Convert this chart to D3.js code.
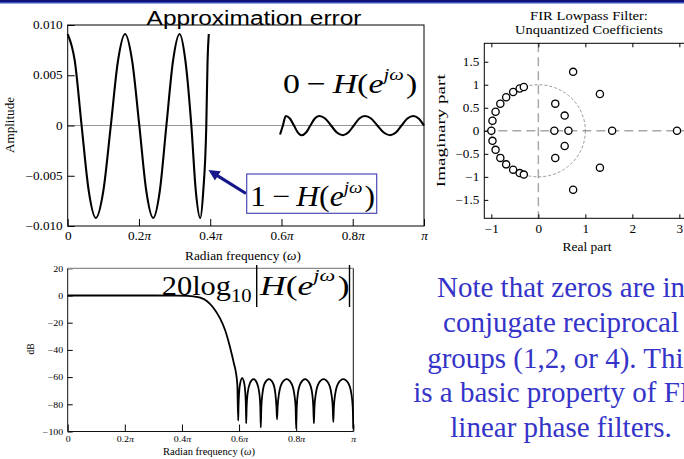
<!DOCTYPE html>
<html><head><meta charset="utf-8">
<script src="https://cdn.jsdelivr.net/npm/d3@7"></script>
<style>html,body{margin:0;padding:0;background:#fff;overflow:hidden}svg{display:block}</style>
</head><body><svg id="c" width="684" height="459"></svg>
<script>
// ---------------- DATA ----------------
// Plot 1: approximation error, passband (1 - H) and stopband (0 - H); omega in units of pi
const passOmega = [0, 0.020, 0.039, 0.059, 0.079, 0.100, 0.121, 0.141, 0.161, 0.181, 0.201, 0.2205, 0.240, 0.2585, 0.277, 0.2955, 0.314, 0.3305, 0.347, 0.3595, 0.372, 0.3805, 0.389, 0.3925, 0.396];
const passError = [0.0091, 0.0064, 0, -0.0065, -0.0092, -0.0065, 0, 0.0064, 0.0091, 0.0064, 0, -0.0065, -0.0092, -0.0065, 0, 0.0064, 0.0091, 0.0064, 0, -0.0065, -0.0092, -0.0065, 0, 0.0064, 0.0091];
const stopOmega = [0.596, 0.604, 0.612, 0.6235, 0.635, 0.646, 0.657, 0.669, 0.681, 0.6935, 0.706, 0.7225, 0.739, 0.7555, 0.772, 0.7875, 0.803, 0.8185, 0.834, 0.8515, 0.869, 0.887, 0.905, 0.921, 0.937, 0.9535, 0.970, 0.985, 1.0];
const stopError = [-0.0009, 0, 0.00095, 0.0007, 0, -0.0007, -0.00097, -0.0007, 0, 0.0007, 0.00095, 0.0007, 0, -0.0007, -0.00097, -0.0007, 0, 0.0007, 0.00095, 0.0007, 0, -0.0007, -0.00097, -0.0007, 0, 0.0007, 0.00095, 0.0007, 0];

// Plot 2: zeros of the FIR filter
const zerosRe = [-1, -0.976, -0.976, -0.910, -0.910, -0.809, -0.809, -0.685, -0.685, -0.536, -0.536, -0.397, -0.397, -0.309, -0.309, 0.36, 0.36, 0.56, 0.56, 0.34, 0.64, 1.57, 2.95, 0.74, 0.74, 1.31, 1.31];
const zerosIm = [0, 0.218, -0.218, 0.414, -0.414, 0.588, -0.588, 0.729, -0.729, 0.844, -0.844, 0.918, -0.918, 0.951, -0.951, 0.59, -0.59, 0.33, -0.33, 0, 0, 0, 0, 1.28, -1.28, 0.80, -0.80];

// Plot 3: magnitude response in dB
const dbOmega = [0, 0.30, 0.38, 0.42, 0.44, 0.464, 0.487, 0.51, 0.533, 0.551, 0.568, 0.582, 0.590, 0.594, 0.597,
  0.598, 0.600, 0.604, 0.611, 0.618, 0.622, 0.624, 0.625,
  0.6265, 0.630, 0.638, 0.6505, 0.663, 0.671, 0.6745, 0.676,
  0.678, 0.682, 0.690, 0.7045, 0.719, 0.727, 0.731, 0.733,
  0.735, 0.740, 0.750, 0.7665, 0.783, 0.793, 0.798, 0.800,
  0.802, 0.806, 0.8155, 0.831, 0.8465, 0.856, 0.860, 0.862,
  0.864, 0.869, 0.879, 0.896, 0.913, 0.923, 0.928, 0.930,
  0.932, 0.937, 0.9475, 0.965, 0.9825, 0.993, 0.998, 1.0];
const dbMag = [0, 0, -0.05, -0.3, -0.7, -1.6, -4.0, -9.0, -16.7, -25.4, -37.7, -50, -58, -66, -92,
  -82, -72, -64.5, -60.8, -64.5, -72, -82, -94,
  -82, -72, -64.5, -61.5, -64.5, -72, -82, -97,
  -82, -72, -64.5, -61.5, -64.5, -72, -82, -91,
  -82, -72, -64.5, -61.5, -64.5, -72, -82, -98,
  -82, -72, -64.5, -61.5, -64.5, -72, -82, -94,
  -82, -72, -64.5, -61.5, -64.5, -72, -82, -93,
  -82, -72, -64.5, -61.5, -64.5, -72, -82, -98];

// Tick values and labels
const freqTicks = [0, 0.2, 0.4, 0.6, 0.8, 1];
const freqTickLabels = ["0", "0.2π", "0.4π", "0.6π", "0.8π", "π"];
const ampTicks = [-0.01, -0.005, 0, 0.005, 0.01];
const ampTickLabels = ["−0.010", "−0.005", "0", "0.005", "0.010"];
const dbTicks = [-100, -80, -60, -40, -20, 0, 20];
const dbTickLabels = ["−100", "−80", "−60", "−40", "−20", "0", "20"];
const reTicks = [-1, 0, 1, 2, 3];
const reTickLabels = ["−1", "0", "1", "2", "3"];
const imTicks = [-1.5, -1, -0.5, 0, 0.5, 1, 1.5];
const imTickLabels = ["−1.5", "−1", "−0.5", "0", "0.5", "1", "1.5"];

const noteLines = ["Note that zeros are in", "conjugate reciprocal", "groups (1,2, or 4). This", "is a basic property of FIR", "linear phase filters."];

// ---------------- DRAWING ----------------
const W = 684, H = 459;
const SERIF = '"Liberation Serif","Times New Roman",serif';
const SANS = '"Liberation Sans",Arial,sans-serif';
const svg = d3.select("#c");
svg.append("rect").attr("width", W).attr("height", H).attr("fill", "#fff");

// slide top rule
svg.append("rect").attr("x", 0).attr("y", 0).attr("width", W).attr("height", 2).attr("fill", "#101078");
svg.append("rect").attr("x", 0).attr("y", 2).attr("width", W).attr("height", 1.5).attr("fill", "#3a4fc0");

function label(g, o) {
  const t = g.append("text").attr("font-family", o.family || SERIF).attr("font-size", o.size)
    .attr("text-anchor", o.anchor || "middle").attr("fill", o.fill || "#000");
  if (o.style) t.attr("font-style", o.style);
  if (o.parts) {
    o.parts.forEach(p => {
      const s = t.append("tspan").text(p.t);
      if (p.i) s.attr("font-style", "italic");
      if (p.size) s.attr("font-size", p.size);
      if (p.dy) s.attr("dy", p.dy);
      if (p.dx) s.attr("dx", p.dx);
    });
  } else t.text(o.text);
  const L = t.node().getComputedTextLength();
  const k = (o.width && L > 0) ? o.width / L : 1;
  const rot = o.rotate ? ` rotate(${o.rotate})` : "";
  t.attr("transform", `translate(${o.x},${o.y})${rot} scale(${k},1)`);
  return t;
}

function styleAxis(sel, size, sx, side) {
  sel.select(".domain").remove();
  sel.selectAll(".tick line").attr("stroke", "#000").attr("stroke-width", 1);
  sel.selectAll(".tick text").attr("font-family", SERIF).attr("font-size", size).attr("fill", "#000")
    .each(function () {
      const s = d3.select(this);
      const str = s.text();
      if (str.includes("π")) {
        s.text("");
        const parts = str.split("π");
        if (parts[0]) s.append("tspan").text(parts[0]);
        s.append("tspan").attr("font-style", "italic").text("π");
      }
      if (side === "left") {
        const xx = +s.attr("x");
        s.attr("x", xx / sx);
      }
      s.attr("transform", `scale(${sx},1)`);
    });
}

// ===== Plot 1: Approximation error =====
const x1 = d3.scaleLinear([0, 1], [67.7, 424]);
const y1 = d3.scaleLinear([-0.01, 0.01], [226, 25]);
const g1 = svg.append("g");
g1.append("line").attr("x1", x1(0)).attr("x2", x1(1)).attr("y1", y1(0)).attr("y2", y1(0))
  .attr("stroke", "#9a9a9a").attr("stroke-width", 1.2);
g1.append("g").attr("transform", `translate(0,${y1.range()[0]})`)
  .call(d3.axisBottom(x1).tickValues(freqTicks).tickFormat((d, i) => freqTickLabels[i]).tickSizeInner(-7).tickSizeOuter(0).tickPadding(6))
  .call(styleAxis, 11.5, 1.15, "bottom");
g1.append("g").attr("transform", `translate(${x1.range()[0]},0)`)
  .call(d3.axisLeft(y1).tickValues(ampTicks).tickFormat((d, i) => ampTickLabels[i]).tickSizeInner(-7).tickSizeOuter(0).tickPadding(5))
  .call(styleAxis, 11.5, 1.15, "left");
g1.append("rect").attr("x", x1(0)).attr("y", y1(0.01)).attr("width", x1(1) - x1(0)).attr("height", y1(-0.01) - y1(0.01))
  .attr("fill", "none").attr("stroke", "#000").attr("stroke-width", 1);
const line1 = d3.line().x(d => x1(d[0])).y(d => y1(d[1])).curve(d3.curveMonotoneX);
g1.append("path").attr("d", line1(d3.zip(passOmega, passError))).attr("fill", "none").attr("stroke", "#000").attr("stroke-width", 2.1);
g1.append("path").attr("d", line1(d3.zip(stopOmega, stopError))).attr("fill", "none").attr("stroke", "#000").attr("stroke-width", 2.1);
label(g1, { x: 14, y: 125, text: "Amplitude", size: 12, rotate: -90, width: 56 });
label(g1, { x: 243, y: 260, size: 11.5, width: 116, parts: [{ t: "Radian frequency (" }, { t: "ω", i: 1 }, { t: ")" }] });
label(svg, { x: 254, y: 24.5, text: "Approximation error", size: 21, family: SANS, width: 215 });

// 0 - H(e^jw)
label(g1, { x: 283, y: 93, size: 28, anchor: "start", width: 132, parts: [
  { t: "0" }, { t: "\u2009−\u2009" }, { t: "H", i: 1 }, { t: "(" }, { t: "e", i: 1 },
  { t: "jω", i: 1, size: 17, dy: -13 }, { t: ")", dy: 13, dx: 2 }] });

// arrow and boxed 1 - H(e^jw)
{
  const ax0 = 246, ay0 = 193.5, tx = 208.5, ty = 170;
  const ang = Math.atan2(ty - ay0, tx - ax0);
  const hl = 11, hw = 5.5;
  const bx = tx - hl * Math.cos(ang), by = ty - hl * Math.sin(ang);
  g1.append("line").attr("x1", ax0).attr("y1", ay0).attr("x2", bx + 2 * Math.cos(ang)).attr("y2", by + 2 * Math.sin(ang))
    .attr("stroke", "#16168a").attr("stroke-width", 3.2);
  const px = -Math.sin(ang) * hw, py = Math.cos(ang) * hw;
  g1.append("path").attr("d", `M${tx},${ty}L${bx + px},${by + py}L${bx - px},${by - py}Z`).attr("fill", "#16168a");
}
g1.append("rect").attr("x", 246.7).attr("y", 174).attr("width", 130).attr("height", 39.3)
  .attr("fill", "#fff").attr("stroke", "#4b4bb5").attr("stroke-width", 1.2);
label(g1, { x: 250, y: 206, size: 29, anchor: "start", width: 123, parts: [
  { t: "1" }, { t: "\u2009−\u2009" }, { t: "H", i: 1 }, { t: "(" }, { t: "e", i: 1 },
  { t: "jω", i: 1, size: 17.5, dy: -13 }, { t: ")", dy: 13, dx: 2 }] });

// ===== Plot 2: pole-zero =====
const x2 = d3.scaleLinear([-1.15, 3.2], [484.3, 688.75]);
const y2 = d3.scaleLinear([-1.9, 1.9], [218.3, 43.3]);
const g2 = svg.append("g");
label(g2, { x: 589, y: 19.5, text: "FIR Lowpass Filter:", size: 12, width: 118 });
label(g2, { x: 589, y: 33.5, text: "Unquantized Coefficients", size: 12, width: 148 });
g2.append("line").attr("x1", x2(0)).attr("x2", x2(0)).attr("y1", y2(1.9)).attr("y2", y2(-1.9))
  .attr("stroke", "#a8a8a8").attr("stroke-width", 1.5).attr("stroke-dasharray", "9,5");
g2.append("line").attr("x1", x2(-1.15)).attr("x2", x2(3.2)).attr("y1", y2(0)).attr("y2", y2(0))
  .attr("stroke", "#a8a8a8").attr("stroke-width", 1.5).attr("stroke-dasharray", "9,5");
g2.append("ellipse").attr("cx", x2(0)).attr("cy", y2(0)).attr("rx", x2(1) - x2(0)).attr("ry", y2(0) - y2(1))
  .attr("fill", "none").attr("stroke", "#808080").attr("stroke-width", 0.8).attr("stroke-dasharray", "3,2");
g2.append("g").attr("transform", `translate(0,${y2.range()[0]})`)
  .call(d3.axisBottom(x2).tickValues(reTicks).tickFormat((d, i) => reTickLabels[i]).tickSizeInner(-4).tickSizeOuter(0).tickPadding(6))
  .call(styleAxis, 12, 1.1, "bottom");
g2.append("g").attr("transform", `translate(0,${y2.range()[1]})`)
  .call(d3.axisTop(x2).tickValues(reTicks).tickFormat("").tickSizeInner(-4).tickSizeOuter(0))
  .call(styleAxis, 12, 1, "top");
g2.append("g").attr("transform", `translate(${x2.range()[0]},0)`)
  .call(d3.axisLeft(y2).tickValues(imTicks).tickFormat((d, i) => imTickLabels[i]).tickSizeInner(-4).tickSizeOuter(0).tickPadding(5))
  .call(styleAxis, 12, 1.1, "left");
g2.append("g").attr("transform", `translate(${x2.range()[1]},0)`)
  .call(d3.axisRight(y2).tickValues(imTicks).tickFormat("").tickSizeInner(-4).tickSizeOuter(0))
  .call(styleAxis, 12, 1, "right");
g2.append("rect").attr("x", x2(-1.15)).attr("y", y2(1.9)).attr("width", x2(3.2) - x2(-1.15)).attr("height", y2(-1.9) - y2(1.9))
  .attr("fill", "none").attr("stroke", "#000").attr("stroke-width", 1);
g2.selectAll("circle.z").data(d3.zip(zerosRe, zerosIm)).join("circle").attr("class", "z")
  .attr("cx", d => x2(d[0])).attr("cy", d => y2(d[1])).attr("r", 3.6)
  .attr("fill", "#fff").attr("stroke", "#000").attr("stroke-width", 1.3);
label(g2, { x: 445, y: 130.7, text: "Imaginary part", size: 12.5, rotate: -90, width: 113 });
label(g2, { x: 587, y: 251, text: "Real part", size: 12.5, width: 49 });

// ===== Plot 3: dB magnitude =====
const x3 = d3.scaleLinear([0, 1], [67.7, 353.3]);
const y3 = d3.scaleLinear([-100, 20], [431.5, 268.3]);
const g3 = svg.append("g");
g3.append("g").attr("transform", `translate(0,${y3.range()[0]})`)
  .call(d3.axisBottom(x3).tickValues(freqTicks).tickFormat((d, i) => freqTickLabels[i]).tickSizeInner(-7).tickSizeOuter(0).tickPadding(4))
  .call(styleAxis, 8.6, 1.15, "bottom");
g3.append("g").attr("transform", `translate(${x3.range()[0]},0)`)
  .call(d3.axisLeft(y3).tickValues(dbTicks).tickFormat((d, i) => dbTickLabels[i]).tickSizeInner(-5).tickSizeOuter(0).tickPadding(4.5))
  .call(styleAxis, 8.6, 1.15, "left");
g3.append("path").attr("d", `M${x3(0)},${y3(20)}V${y3(-100)}H${x3(1)}V${y3(20)}`)
  .attr("fill", "none").attr("stroke", "#111").attr("stroke-width", 1);
g3.append("line").attr("x1", x3(0)).attr("x2", x3(1)).attr("y1", y3(20)).attr("y2", y3(20))
  .attr("stroke", "#8c8c8c").attr("stroke-width", 1.2);
const line3 = d3.line().x(d => x3(d[0])).y(d => y3(d[1])).curve(d3.curveMonotoneX);
g3.append("path").attr("d", line3(d3.zip(dbOmega, dbMag))).attr("fill", "none").attr("stroke", "#000").attr("stroke-width", 1.8);
label(g3, { x: 34, y: 349, text: "dB", size: 9.5, rotate: -90 });
label(g3, { x: 209, y: 455, size: 9.3, width: 92, parts: [{ t: "Radian frequency (" }, { t: "ω", i: 1 }, { t: ")" }] });

// 20 log10 |H(e^jw)|
label(g3, { x: 161.7, y: 295, size: 28, anchor: "start", width: 90, parts: [{ t: "20log" }, { t: "10", size: 19, dy: 7 }] });
g3.append("line").attr("x1", 256.7).attr("x2", 256.7).attr("y1", 265).attr("y2", 307).attr("stroke", "#000").attr("stroke-width", 1.4);
label(g3, { x: 260, y: 295, size: 28, anchor: "start", width: 87, parts: [
  { t: "H", i: 1 }, { t: "(" }, { t: "e", i: 1 }, { t: "jω", i: 1, size: 17.5, dy: -14 }, { t: ")", dy: 14, dx: 2 }] });
g3.append("line").attr("x1", 349.5).attr("x2", 349.5).attr("y1", 265).attr("y2", 307).attr("stroke", "#000").attr("stroke-width", 1.4);

// ===== Note text =====
const gN = svg.append("g");
const noteBase = [297, 332, 367.5, 402, 437];
noteLines.forEach((s, i) => {
  gN.append("text").attr("x", 561).attr("y", noteBase[i]).attr("text-anchor", "middle")
    .attr("font-family", SERIF).attr("font-size", 29).attr("fill", "#3434c8").text(s);
});
</script></body></html>
